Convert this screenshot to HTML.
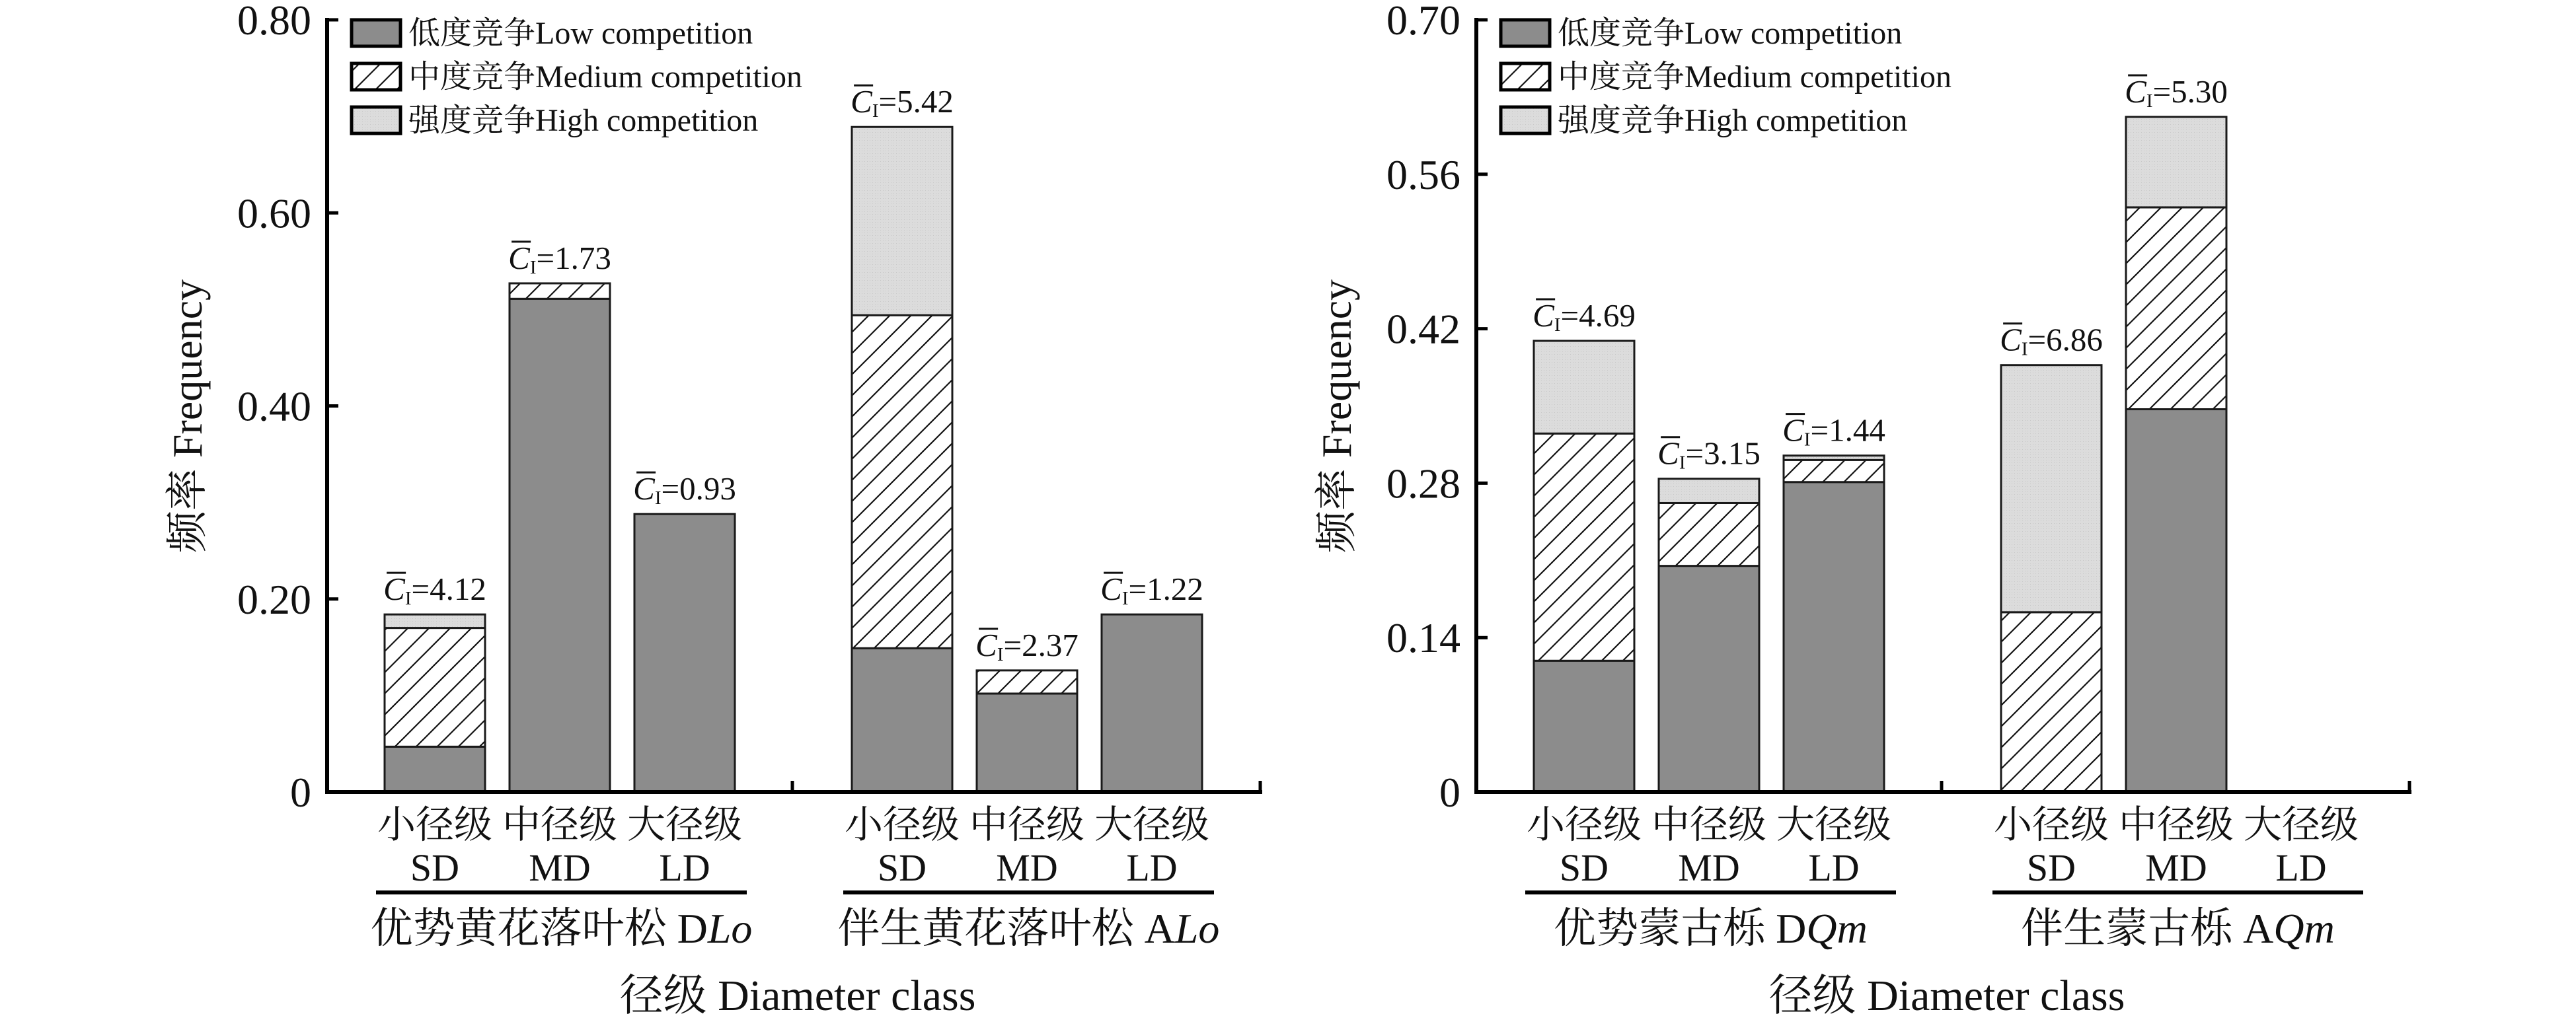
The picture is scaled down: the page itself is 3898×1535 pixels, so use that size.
<!DOCTYPE html>
<html><head><meta charset="utf-8">
<style>
html,body{margin:0;padding:0;background:#fff;}
svg{display:block;font-family:"Liberation Serif","Noto Serif CJK SC",serif;}
</style></head>
<body>
<svg id="chart" width="3898" height="1535" viewBox="0 0 3898 1535" xmlns="http://www.w3.org/2000/svg">
<defs>
<pattern id="hatch" patternUnits="userSpaceOnUse" width="32" height="32">
<rect width="32" height="32" fill="#fff"/>
<path d="M-8,40 L40,-8 M-8,8 L8,-8 M24,40 L40,24" stroke="#111" stroke-width="2.2"/>
</pattern>
<pattern id="dots" patternUnits="userSpaceOnUse" width="4" height="4">
<rect width="4" height="4" fill="#dcdcdc"/>
<rect width="1" height="1" fill="#c8c8c8"/>
</pattern>
</defs>
</svg>
<script>
// ---- data ----
const categories = ["SD","MD","LD"];
const catCN = ["小径级","中径级","大径级"];
// Left panel (larch)
const leftGroups = ["DLo","ALo"];
const leftLow  = [[0.047,0.511,0.288],[0.149,0.102,0.184]];
const leftMed  = [[0.123,0.016,0.000],[0.345,0.024,0.000]];
const leftHigh = [[0.014,0.000,0.000],[0.195,0.000,0.000]];
const leftCI   = [["4.12","1.73","0.93"],["5.42","2.37","1.22"]];
const leftTicks = [0,0.2,0.4,0.6,0.8];
const leftTickLabels = ["0","0.20","0.40","0.60","0.80"];
// Right panel (oak)
const rightGroups = ["DQm","AQm"];
const rightLow  = [[0.119,0.205,0.281],[0.000,0.347,0.000]];
const rightMed  = [[0.206,0.057,0.020],[0.163,0.183,0.000]];
const rightHigh = [[0.084,0.022,0.004],[0.224,0.082,0.000]];
const rightCI   = [["4.69","3.15","1.44"],["6.86","5.30",""]];
const rightTicks = [0,0.14,0.28,0.42,0.56,0.70];
const rightTickLabels = ["0","0.14","0.28","0.42","0.56","0.70"];

const NS="http://www.w3.org/2000/svg";
const svg=document.getElementById('chart');
function mk(tag,attrs,parent,txt){const e=document.createElementNS(NS,tag);for(const k in attrs)e.setAttribute(k,attrs[k]);if(txt!==undefined)e.textContent=txt;(parent||svg).appendChild(e);return e;}

function panel(p){
  const g=mk('g',{});
  
  
  const ax=p.ax, y0=1199, yTop=30, ymax=p.ticks[p.ticks.length-1];
  const yS=v=>y0-(v/ymax)*(y0-yTop);
  const barW=152, pitch=189, first=ax+87, groupGap=707;
  const xS=(gi,ci)=>first+gi*groupGap+ci*pitch;
  for(let gi=0;gi<2;gi++)for(let ci=0;ci<3;ci++){
    let base=0;
    const segs=[[p.low[gi][ci],'#8c8c8c','low'],[p.med[gi][ci],'url(#hatch)','medium'],[p.high[gi][ci],'url(#dots)','high']];
    for(const s of segs){
      if(s[0]<=0)continue;
      const r=mk('rect',{x:xS(gi,ci),y:yS(base+s[0]),width:barW,height:yS(base)-yS(base+s[0]),fill:s[1],stroke:'#1a1a1a','stroke-width':3},g);
      
      
      base+=s[0];
    }
    const ci_=p.ci[gi][ci];
    if(ci_){
      const cx=xS(gi,ci)+barW/2, by=yS(base)-22;
      const t=mk('text',{x:0,y:by,'font-size':49,fill:'#111'},g);
      
      
      mk('tspan',{'font-style':'italic'},t,'C');
      mk('tspan',{'font-size':29,dy:7},t,'I');
      mk('tspan',{dy:-7},t,'='+ci_);
      const w=t.getComputedTextLength();
      const sx=cx-w/2;
      t.setAttribute('x',sx);
      mk('line',{x1:sx+5,x2:sx+34,y1:by-41,y2:by-41,stroke:'#111','stroke-width':3},g);
    }
  }
  const xEnd=ax+1412;
  mk('line',{x1:ax,y1:yTop-3,x2:ax,y2:y0+2.5,stroke:'#000','stroke-width':6},g);
  mk('line',{x1:ax-3,y1:y0,x2:xEnd+3,y2:y0,stroke:'#000','stroke-width':6},g);
  mk('line',{x1:ax+704,y1:y0,x2:ax+704,y2:y0-17,stroke:'#000','stroke-width':5},g);
  mk('line',{x1:xEnd,y1:y0,x2:xEnd,y2:y0-17,stroke:'#000','stroke-width':5},g);
  p.ticks.forEach((v,i)=>{
    mk('line',{x1:ax,x2:ax+17,y1:yS(v),y2:yS(v),stroke:'#000','stroke-width':5},g);
    const t=mk('text',{x:ax-24,y:yS(v)+22,'font-size':64,'text-anchor':'end',fill:'#111'},g,p.tickLabels[i]);
    
    
  });
  const yt=mk('text',{x:0,y:0,'font-size':64,'text-anchor':'middle',fill:'#111',transform:`translate(${ax-190},630) rotate(-90)`},g,'频率 Frequency');
  
  
  for(let gi=0;gi<2;gi++){
    for(let ci=0;ci<3;ci++){
      const cx=xS(gi,ci)+barW/2;
      const a=mk('text',{x:cx,y:1268,'font-size':58,'text-anchor':'middle',fill:'#111'},g,catCN[ci]);
      
      
      const b=mk('text',{x:cx,y:1333,'font-size':58,'text-anchor':'middle',fill:'#111'},g,categories[ci]);
      
      
    }
    const lx1=xS(gi,0)-13, lx2=xS(gi,2)+barW+18;
    mk('line',{x1:lx1,x2:lx2,y1:1351,y2:1351,stroke:'#000','stroke-width':6},g);
    const gl=mk('text',{x:(lx1+lx2)/2,y:1427,'font-size':64,'text-anchor':'middle',fill:'#111'},g);
    
    
    mk('tspan',{},gl,p.groupCN[gi]+' '+p.groups[gi][0]);
    mk('tspan',{'font-style':'italic'},gl,p.groups[gi].slice(1));
  }
  const xt=mk('text',{x:ax+712,y:1529,'font-size':66,'text-anchor':'middle',fill:'#111'},g,'径级 Diameter class');
  
  
  const legNames=['低度竞争Low competition','中度竞争Medium competition','强度竞争High competition'];
  const legFill=['#8c8c8c','url(#hatch)','url(#dots)'];
  legNames.forEach((n,i)=>{
    const cy=50+i*66;
    const r=mk('rect',{x:ax+37,y:cy-20,width:74,height:40,fill:legFill[i],stroke:'#000','stroke-width':5},g);
    
    
    const t=mk('text',{x:ax+123,y:cy+16,'font-size':48,fill:'#111'},g,n);
    
    
  });
}
panel({name:'larch-panel',ax:495,low:leftLow,med:leftMed,high:leftHigh,ci:leftCI,ticks:leftTicks,tickLabels:leftTickLabels,groups:leftGroups,groupCN:['优势黄花落叶松','伴生黄花落叶松']});
panel({name:'oak-panel',ax:2234,low:rightLow,med:rightMed,high:rightHigh,ci:rightCI,ticks:rightTicks,tickLabels:rightTickLabels,groups:rightGroups,groupCN:['优势蒙古栎','伴生蒙古栎']});
</script>
</body></html>
